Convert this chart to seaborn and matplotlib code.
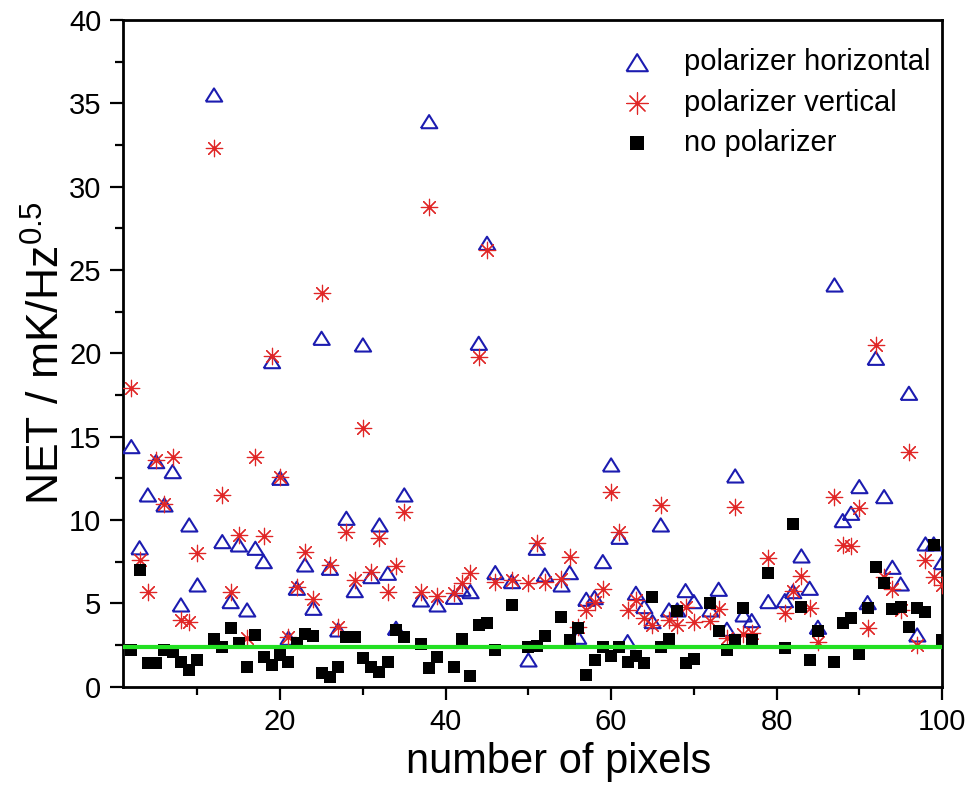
import matplotlib
matplotlib.use("Agg")
import matplotlib.pyplot as plt
import seaborn as sns
from matplotlib.ticker import MultipleLocator

# ---------------- data ----------------
pixels = [2, 3, 4, 5, 6, 7, 8, 9, 10, 12, 13, 14, 15, 16, 17, 18, 19, 20, 21, 22,
          23, 24, 25, 26, 27, 28, 29, 30, 31, 32, 33, 34, 35, 37, 38, 39, 41, 42, 43, 44,
          45, 46, 48, 50, 51, 52, 54, 55, 56, 57, 58, 59, 60, 61, 62, 63, 64, 65, 66, 67,
          68, 69, 70, 72, 73, 74, 75, 76, 77, 79, 81, 82, 83, 84, 85, 87, 88, 89, 90, 91,
          92, 93, 94, 95, 96, 97, 98, 99, 100]

net_horizontal = [14.4, 8.33, 11.5, 13.5, 10.9, 12.9, 4.9, 9.7, 6.1, 35.5, 8.7, 5.1, 8.5, 4.6, 8.3, 7.5, 19.5, 12.5, 2.9, 5.9,
                  7.3, 4.7, 20.9, 7.1, 3.4, 10.1, 5.76, 20.5, 6.6, 9.7, 6.8, 3.5, 11.5, 5.2, 33.9, 4.9, 5.36, 5.84, 5.7, 20.6,
                  26.6, 6.84, 6.3, 1.6, 8.3, 6.7, 6.1, 6.84, 2.96, 5.24, 5.34, 7.5, 13.3, 8.96, 2.7, 5.6, 4.8, 3.9, 9.7, 4.6,
                  4.6, 5.76, 5.1, 4.6, 5.84, 3.44, 12.64, 4.3, 3.96, 5.1, 5.16, 5.7, 7.84, 5.9, 3.56, 24.1, 9.96, 10.4, 12.0, 5.04,
                  19.7, 11.4, 7.16, 6.16, 17.6, 3.1, 8.56, 8.56, 7.44]

net_vertical = [17.9, 7.6, 5.7, 13.6, 10.95, 13.8, 4.0, 3.9, 8.0, 32.3, 11.5, 5.7, 9.1, 2.9, 13.8, 9.04, 19.85, 12.6, 3.0, 6.0,
                8.1, 5.24, 23.6, 7.3, 3.6, 9.3, 6.4, 15.5, 6.9, 8.9, 5.7, 7.25, 10.5, 5.7, 28.8, 5.44, 5.6, 6.2, 6.8, 19.8,
                26.2, 6.3, 6.4, 6.2, 8.6, 6.3, 6.44, 7.76, 3.6, 4.6, 5.1, 5.84, 11.7, 9.3, 4.6, 5.2, 4.1, 3.7, 10.9, 4.0,
                3.7, 4.8, 3.9, 3.96, 4.64, 2.9, 10.8, 3.16, 3.24, 7.7, 4.4, 5.76, 6.64, 4.7, 2.7, 11.4, 8.5, 8.44, 10.7, 3.5,
                20.5, 6.6, 5.84, 4.6, 14.1, 2.5, 7.6, 6.6, 6.1]

net_none = [2.2, 7.0, 1.43, 1.43, 2.2, 2.1, 1.5, 1.0, 1.6, 2.84, 2.4, 3.5, 2.6, 1.2, 3.1, 1.8, 1.3, 1.9, 1.5, 2.6,
            3.16, 3.04, 0.84, 0.6, 1.16, 2.96, 2.96, 1.7, 1.16, 0.9, 1.5, 3.4, 2.96, 2.56, 1.1, 1.76, 1.2, 2.84, 0.64, 3.7,
            3.8, 2.2, 4.9, 2.4, 2.44, 3.04, 4.2, 2.8, 3.5, 0.7, 1.6, 2.4, 1.84, 2.4, 1.5, 1.84, 1.4, 5.36, 2.4, 2.84,
            4.56, 1.44, 1.64, 5.0, 3.36, 2.2, 2.8, 4.7, 2.8, 6.84, 2.3, 9.76, 4.76, 1.6, 3.36, 1.5, 3.8, 4.1, 1.96, 4.7,
            7.16, 6.2, 4.64, 4.8, 3.56, 4.7, 4.5, 8.5, 2.8]

reference_level = 2.35
series_labels = ["polarizer horizontal", "polarizer vertical", "no polarizer"]
x_ticks = [20, 40, 60, 80, 100]
y_ticks = [0, 5, 10, 15, 20, 25, 30, 35, 40]

# ---------------- style ----------------
sns.set_style("ticks")
plt.rcParams["font.family"] = ["Liberation Sans", "DejaVu Sans"]
plt.rcParams["mathtext.default"] = "regular"
for key in ["text.color", "axes.labelcolor", "xtick.color", "ytick.color",
            "xtick.labelcolor", "ytick.labelcolor", "axes.edgecolor"]:
    plt.rcParams[key] = "black"

W, H = 967, 796
fig = plt.figure(figsize=(W / 100, H / 100), dpi=100)
left, right, top, bottom = 123, 942, 20, 686.6
ax = fig.add_axes([left / W, 1 - bottom / H, (right - left) / W, (bottom - top) / H])

blue = "#1c1cb0"
red = "#e02626"
green = "#22e022"
tri = [(-1, -0.8), (1, -0.8), (0, 0.8), (-1, -0.8)]

sns.scatterplot(x=pixels, y=net_horizontal, marker=tri, s=140, color=blue,
                facecolor="none", edgecolor=blue, linewidth=1.5,
                label=series_labels[0], ax=ax, zorder=3)
sns.scatterplot(x=pixels, y=net_vertical, marker=(8, 2, 0), s=140, color=red,
                linewidth=0.85, label=series_labels[1], ax=ax, zorder=4)
sns.scatterplot(x=pixels, y=net_none, marker="s", s=68, color="black",
                edgecolor="black", linewidth=0, label=series_labels[2], ax=ax, zorder=5)
ax.axhline(reference_level, color=green, lw=3.0, zorder=6)

ax.set_xlim(1, 100)
ax.set_ylim(0, 40)
ax.set_xticks(x_ticks)
ax.set_yticks(y_ticks)
ax.xaxis.set_minor_locator(MultipleLocator(10))
ax.yaxis.set_minor_locator(MultipleLocator(2.5))
ax.tick_params(which="major", direction="out", length=9.5, width=1.6,
               labelsize=21, top=False, right=False, pad=6, colors="black")
ax.tick_params(which="minor", direction="out", length=5.8, width=1.6,
               top=False, right=False)
for sp in ax.spines.values():
    sp.set_visible(True)
    sp.set_linewidth(2.0)
    sp.set_color("black")

ax.set_xlabel("number of pixels", fontsize=30, labelpad=4)
ax.xaxis.label.set_x(0.532)
ax.set_ylabel(r"NET / mK/Hz$^{0.5}$", fontsize=32, labelpad=0)

leg = ax.legend(loc="upper right", bbox_to_anchor=(1.0, 0.975), borderaxespad=0,
                frameon=False, fontsize=21, markerscale=1.3, handlelength=1.6,
                handletextpad=0.8, labelspacing=0.42)

fig.savefig("out.png", dpi=100)
